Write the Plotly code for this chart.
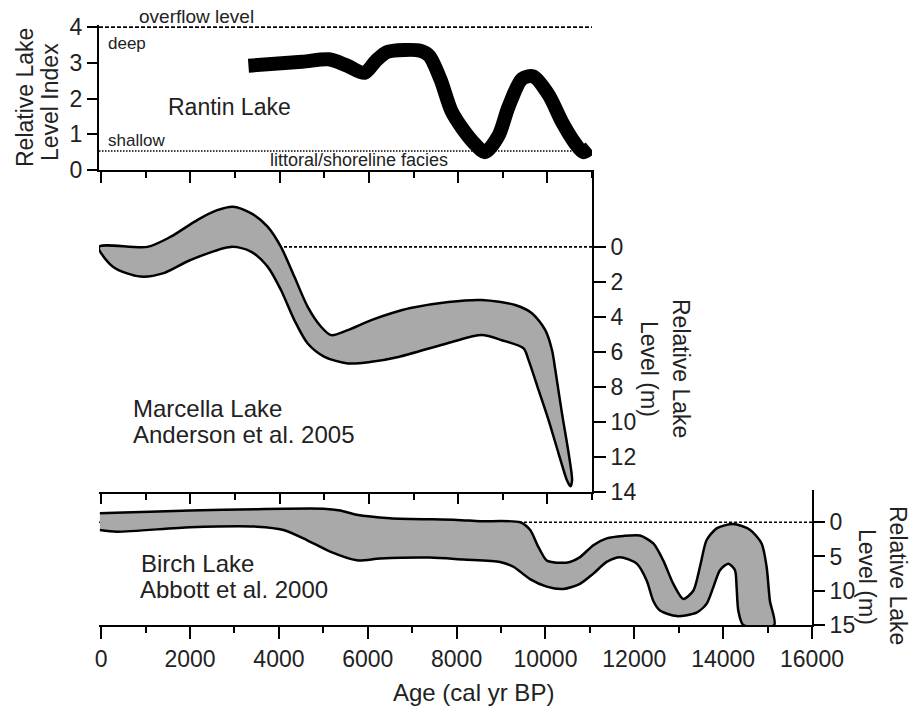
import plotly.graph_objects as go

# ---------------- data ----------------
rantin_age = [3300, 4500, 5100, 5500, 5900, 6150, 6400, 6800, 7150, 7350, 7600, 7850,
              8100, 8380, 8600, 8900, 9130, 9430, 9680, 10030, 10330, 10620, 10800, 10960]
rantin_idx = [2.92, 3.03, 3.1, 2.93, 2.72, 3.05, 3.3, 3.36, 3.34, 3.2, 2.55, 1.65,
              1.15, 0.72, 0.5, 0.95, 1.77, 2.55, 2.62, 2.1, 1.34, 0.75, 0.5, 0.62]

marcella_upper_age = [-50, 1035, 1550, 2160, 2600, 2950, 3353, 3728, 4028, 4328, 4628, 4928,
                      5153, 5528, 6053, 6503, 6930, 7780, 8530, 9278, 9653, 9953, 10103,
                      10178, 10328, 10478, 10553, 10516]
marcella_upper_m = [0.0, 0.0, -0.57, -1.55, -2.1, -2.3, -1.93, -1.16, 0.0, 1.7, 3.43, 4.57,
                    5.05, 4.76, 4.19, 3.8, 3.5, 3.15, 3.04, 3.33, 3.8, 4.76, 5.9,
                    7.05, 9.54, 11.84, 13.37, 13.7]
marcella_lower_age = [10440, 10253, 10028, 9803, 9578, 9466, 8978, 8528, 7780, 6660, 6053,
                      5528, 5003, 4628, 4328, 4028, 3728, 3353, 2903, 2000, 1400, 880, 270, -50]
marcella_lower_m = [13.37, 11.84, 9.93, 8.2, 6.48, 5.81, 5.34, 5.05, 5.5, 6.3, 6.58,
                    6.67, 6.29, 5.53, 4.19, 2.47, 1.13, 0.27, 0.0, 0.75, 1.5, 1.7, 1.15, 0.0]

birch_upper_age = [-30, 500, 2000, 3500, 5000, 5380, 5750, 6500, 8000, 8530, 9430, 9653,
                   9840, 10028, 10253, 10553, 10778, 11078, 11378, 11753, 12128, 12428,
                   12653, 12878, 13103, 13328, 13478, 13628, 13853, 14228, 14603, 14866,
                   14978, 15053, 15150]
birch_upper_m = [-1.3, -1.42, -1.7, -1.9, -1.96, -1.7, -1.08, -0.58, -0.34, -0.15, 0.0, 1.1,
                 3.6, 5.6, 5.9, 5.8, 5.1, 3.35, 2.36, 2.0, 1.95, 3.1,
                 5.6, 9.0, 11.2, 10.0, 6.5, 2.6, 0.9, 0.25, 1.1, 3.1,
                 6.5, 11.5, 15.0]
birch_lower_age = [14453, 14341, 14303, 14266, 14116, 13928, 13778, 13628, 13403, 12953,
                   12578, 12428, 12278, 12054, 11678, 11378, 11078, 10778, 10403, 10028,
                   9653, 9278, 8978, 8153, 7403, 6278, 5753, 5153, 4628, 4103, 3503, 2003,
                   353, -30]
birch_lower_m = [15.0, 12.9, 9.5, 7.0, 6.05, 7.0, 9.5, 11.9, 13.2, 13.7,
                 12.9, 11.5, 8.5, 6.05, 5.1, 5.8, 7.5, 9.0, 9.75, 9.4,
                 8.3, 6.5, 5.8, 5.46, 5.16, 5.3, 5.56, 4.3, 2.6, 1.14, 0.65, 0.74,
                 1.38, 1.14]

overflow_level = 4
shallow_level = 0.53
x_ticks = [0, 2000, 4000, 6000, 8000, 10000, 12000, 14000, 16000]
x_ticklabels = ["0", "2000", "4000", "6000", "8000", "10000", "12000", "14000", "16000"]
rantin_ticks = [0, 1, 2, 3, 4]
marcella_ticks = [0, 2, 4, 6, 8, 10, 12, 14]
birch_ticks = [0, 5, 10, 15]

# ---------------- layout helpers ----------------
W, H = 917, 706
ML, MR, MT, MB = 99, 105, 25, 81
PW, PH = W - ML - MR, H - MT - MB
FONT = "Liberation Sans, Arial, sans-serif"
TXT = "#222"


def paper(px, py):
    return (px - ML) / PW, (H - MB - py) / PH


fig = go.Figure()

# Rantin reference lines
fig.add_trace(go.Scatter(x=[-50, 11000], y=[overflow_level] * 2, mode="lines",
                         line=dict(color="black", width=1.6, dash="4px,2px"),
                         xaxis="x", yaxis="y", showlegend=False, hoverinfo="skip"))
fig.add_trace(go.Scatter(x=[-50, 11000], y=[shallow_level] * 2, mode="lines",
                         line=dict(color="black", width=1.5, dash="1.5px,1.5px"),
                         xaxis="x", yaxis="y", showlegend=False, hoverinfo="skip"))
fig.add_trace(go.Scatter(x=rantin_age, y=rantin_idx, mode="lines",
                         line=dict(color="black", width=14, shape="spline", smoothing=0.8),
                         xaxis="x", yaxis="y", showlegend=False))

# Marcella
fig.add_trace(go.Scatter(x=[-50, 11000], y=[0, 0], mode="lines",
                         line=dict(color="black", width=1.6, dash="3px,2px"),
                         xaxis="x2", yaxis="y2", showlegend=False, hoverinfo="skip"))
fig.add_trace(go.Scatter(x=marcella_upper_age + marcella_lower_age,
                         y=marcella_upper_m + marcella_lower_m,
                         mode="lines", fill="toself", fillcolor="#a9a9a9",
                         line=dict(color="black", width=2.5, shape="spline", smoothing=0.8),
                         xaxis="x2", yaxis="y2", showlegend=False))

# Birch
fig.add_trace(go.Scatter(x=[-50, 16000], y=[0, 0], mode="lines",
                         line=dict(color="black", width=1.6, dash="3px,2px"),
                         xaxis="x3", yaxis="y3", showlegend=False, hoverinfo="skip"))
fig.add_trace(go.Scatter(x=birch_upper_age + birch_lower_age,
                         y=birch_upper_m + birch_lower_m,
                         mode="lines", fill="toself", fillcolor="#a9a9a9",
                         line=dict(color="black", width=2.5, shape="spline", smoothing=0.7),
                         xaxis="x3", yaxis="y3", showlegend=False))

xdom_short = (592 - ML) / PW
top_dom = [paper(0, 170)[1], 1.0]
mid_dom = [paper(0, 491.5)[1], paper(0, 170)[1]]
bot_dom = [0.0, paper(0, 490)[1]]

common_x = dict(showline=True, linecolor="black", linewidth=2, ticks="outside",
                tickcolor="black", tickwidth=2, showgrid=False, zeroline=False,
                tickmode="array", tickvals=x_ticks, ticktext=x_ticklabels,
                minor=dict(dtick=1000, tick0=0, ticks="outside", ticklen=6,
                           tickwidth=2, tickcolor="black", showgrid=False))
common_y = dict(showline=True, linecolor="black", linewidth=2, ticks="outside",
                tickcolor="black", tickwidth=2, showgrid=False, zeroline=False,
                tickfont=dict(family=FONT, size=23, color=TXT))

fig.update_layout(
    width=W, height=H,
    margin=dict(l=ML, r=MR, t=MT, b=MB, pad=0),
    paper_bgcolor="white", plot_bgcolor="rgba(0,0,0,0)",
    font=dict(family=FONT, color=TXT),
    xaxis=dict(common_x, domain=[0, xdom_short], range=[-50, 11000], anchor="y",
               showticklabels=False, ticklen=11),
    xaxis2=dict(common_x, domain=[0, xdom_short], range=[-50, 11000], anchor="y2",
                showticklabels=False, ticklen=10),
    xaxis3=dict(common_x, domain=[0, 1], range=[-50, 16000], anchor="y3",
                showticklabels=True, ticklen=12,
                tickfont=dict(family=FONT, size=23, color=TXT)),
    yaxis=dict(common_y, domain=top_dom, range=[0, 4.06], anchor="x", side="left",
               tickmode="array", tickvals=rantin_ticks, ticklen=10),
    yaxis2=dict(common_y, domain=mid_dom, range=[14, -4.4], anchor="x2", side="right",
                tickmode="array", tickvals=marcella_ticks, ticklen=12),
    yaxis3=dict(common_y, domain=bot_dom, range=[15, -4.7], anchor="x3", side="right",
                tickmode="array", tickvals=birch_ticks, ticklen=11),
)


def add_text(text, px, py, size, xanchor="left", angle=0):
    x, y = paper(px, py)
    fig.add_annotation(text=text, x=x, y=y, xref="paper", yref="paper",
                       xanchor=xanchor, yanchor="middle", showarrow=False,
                       textangle=angle, font=dict(family=FONT, size=size, color=TXT))


add_text("overflow level", 137, 17, 19)
add_text("deep", 106, 44, 17)
add_text("Rantin Lake", 166, 107, 23)
add_text("shallow", 106, 140, 17)
add_text("littoral/shoreline facies", 268, 160, 18)

add_text("Marcella Lake", 131, 408, 24)
add_text("Anderson et al. 2005", 131, 434, 24)
add_text("Birch Lake", 139, 563, 24)
add_text("Abbott et al. 2000", 138, 589, 24)

add_text("Relative Lake", 25, 98, 23, "center", -90)
add_text("Level Index", 50, 102, 23, "center", -90)
add_text("Relative Lake", 681, 368, 23, "center", 90)
add_text("Level (m)", 649, 369, 23, "center", 90)
add_text("Relative Lake", 898, 575, 23, "center", 90)
add_text("Level (m)", 867, 577, 23, "center", 90)
add_text("Age (cal yr BP)", 473, 692, 24, "center")

fig.write_html("out.html")
